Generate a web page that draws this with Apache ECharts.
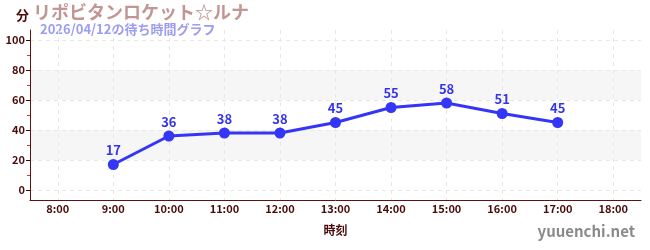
<!DOCTYPE html>
<html><head><meta charset="utf-8">
<script src="https://cdn.jsdelivr.net/npm/echarts@6/dist/echarts.min.js"></script>
<style>html,body{margin:0;padding:0;background:#fff}#c{width:650px;height:250px}</style>
</head><body><div id="c"></div>
<script>
const categories = ['8:00','9:00','10:00','11:00','12:00','13:00','14:00','15:00','16:00','17:00','18:00'];
const waitTimes = [null,17,36,38,38,45,55,58,51,45,null];
const yTickValues = [0,20,40,60,80,100];
const yMinorTickValues = [10,30,50,70,90];
const titleText = 'リポビタンロケット☆ルナ';
const subtitleText = '2026/04/12の待ち時間グラフ';
const unitText = '分';
const xAxisName = '時刻';
const watermark = 'yuuenchi.net';

const FONT = '"Noto Sans CJK JP", "Noto Sans", sans-serif';
const chart = echarts.init(document.getElementById('c'), null, {renderer:'canvas'});
const yMin = -20/3, yMax = 320/3;
const catIdx = categories.map((c,i)=>i);
chart.setOption({
  animation:false,
  textStyle:{fontFamily:FONT},
  grid:{left:30,right:9,top:30,bottom:50,containLabel:false},
  graphic:[
    {type:'text',left:16,top:9,style:{text:unitText,font:'bold 13px '+FONT,fill:'#4a0a0a'}},
    {type:'text',left:33,top:3,style:{text:titleText,font:'bold 18px '+FONT,fill:'#c49595'}},
    {type:'text',left:40,top:23,style:{text:subtitleText,font:'bold 13px '+FONT,fill:'#9c9cf2'}},
    {type:'text',right:15,top:224,style:{text:watermark,font:'bold 15px '+FONT,fill:'#8a8a8a'}}
  ],
  xAxis:[{
    type:'category',data:categories,boundaryGap:true,
    name:xAxisName,nameLocation:'middle',nameGap:24,
    nameTextStyle:{color:'#4a0a0a',fontWeight:'bold',fontSize:12,fontFamily:FONT},
    axisLine:{onZero:false,lineStyle:{color:'#5a1414',width:1}},
    axisTick:{alignWithLabel:true,length:3,lineStyle:{color:'#666'}},
    axisLabel:{color:'#4a0a0a',fontSize:11,fontWeight:'bold',margin:3,interval:0,fontFamily:FONT},
    splitLine:{show:false}
  },{
    type:'value',min:-0.5,max:categories.length-0.5,position:'bottom',offset:0,
    axisLine:{show:false,onZero:false},
    axisTick:{show:false,customValues:catIdx},
    axisLabel:{show:false,customValues:catIdx},
    splitLine:{show:true,lineStyle:{color:'#e8e8e8',type:[4,4]}}
  }],
  yAxis:[{
    type:'value',min:yMin,max:yMax,
    axisLine:{show:true,onZero:false,lineStyle:{color:'#5a1414',width:1}},
    axisTick:{show:true,length:4,customValues:yTickValues,lineStyle:{color:'#2a0a0a'}},
    axisLabel:{color:'#4a0a0a',fontSize:11,fontWeight:'bold',margin:5,customValues:yTickValues,fontFamily:FONT},
    splitLine:{show:true,lineStyle:{color:'#e8e8e8',type:[4,4]}},
    splitArea:{show:true,areaStyle:{color:['rgba(255,255,255,0)','#f6f6f6']}}
  },{
    type:'value',min:yMin,max:yMax,position:'left',offset:0,
    axisLine:{show:false,onZero:false},
    axisTick:{show:true,length:3,customValues:yMinorTickValues,lineStyle:{color:'#e03030'}},
    axisLabel:{show:false},
    splitLine:{show:false}
  }],
  series:[{
    type:'line',data:waitTimes,xAxisIndex:0,yAxisIndex:0,
    symbol:'circle',symbolSize:11,
    lineStyle:{color:'#3535f5',width:3},
    itemStyle:{color:'#3535f5'},
    label:{show:true,position:'top',distance:2,color:'#3535e8',fontSize:13,fontWeight:'bold',fontFamily:FONT}
  }]
});
</script></body></html>
